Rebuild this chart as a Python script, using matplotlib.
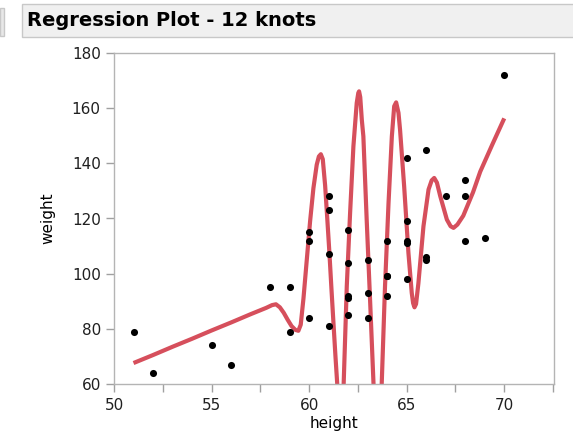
import matplotlib
matplotlib.use('Agg')
import matplotlib.pyplot as plt
from matplotlib.patches import Rectangle

# Big Class data: height vs weight
height = [59, 61, 55, 66, 52, 60, 61, 51, 60, 61, 56, 65, 63, 58, 59, 61, 62, 65, 63, 62,
          63, 64, 65, 64, 68, 64, 69, 62, 64, 67, 65, 66, 62, 66, 65, 60, 68, 62, 68, 70]
weight = [95, 123, 74, 145, 64, 84, 128, 79, 112, 107, 67, 98, 105, 95, 79, 81, 91, 142, 84, 85,
          93, 99, 119, 92, 112, 99, 113, 92, 112, 128, 111, 105, 104, 106, 112, 115, 128, 116, 134, 172]

# fitted spline (12 knots)
fit_x = [51.0, 52.0, 53.0, 54.0, 55.0, 56.0, 57.0, 57.8, 58.1, 58.3, 58.5, 58.7, 58.9, 59.1,
         59.3, 59.45, 59.57, 59.71, 59.88, 60.05, 60.22, 60.39, 60.5, 60.6, 60.7, 60.82,
         60.93, 61.04, 61.14, 61.24, 61.35, 61.45, 61.55, 61.62, 61.7, 61.77, 61.93, 62.1,
         62.27, 62.44, 62.52, 62.56, 62.62, 62.7, 62.78, 62.95, 63.13, 63.3, 63.45, 63.52,
         63.6, 63.72, 63.89, 64.07, 64.24, 64.36, 64.46, 64.58, 64.66, 64.87, 65.09, 65.26,
         65.33, 65.4, 65.48, 65.6, 65.86, 66.12, 66.28, 66.41, 66.55, 66.72, 67.06, 67.25,
         67.4, 67.6, 67.9, 68.4, 68.77, 69.4, 70.0]
fit_y = [67.6, 70.5, 73.5, 76.4, 79.4, 82.3, 85.3, 87.6, 88.6, 88.9, 87.8, 85.8, 83.3, 81.0,
         79.6, 79.3, 81.5, 91.0, 105.0, 119.0, 131.0, 139.5, 142.5, 143.3, 141.5, 132.0,
         120.0, 107.5, 95.0, 83.0, 70.0, 59.0, 48.0, 44.0, 48.0, 60.0, 95.5, 122.0,
         146.2, 161.9, 165.5, 166.1, 164.0, 155.8, 149.8, 119.6, 89.4, 60.1, 44.0, 42.0,
         46.0, 60.0, 95.5, 125.7, 149.8, 160.7, 162.1, 158.3, 152.2, 131.7, 107.5, 93.0,
         89.3, 87.8, 89.0, 96.5, 117.2, 130.5, 133.8, 134.7, 133.0, 128.1, 119.6, 117.2,
         116.6, 117.8, 121.0, 129.5, 137.0, 147.0, 156.3]

x_ticks = [50, 55, 60, 65, 70]
y_ticks = [60, 80, 100, 120, 140, 160, 180]

fig = plt.figure(figsize=(5.73, 4.44), dpi=100)

# title bar
fig.patches.append(Rectangle((22 / 573, 1 - 37 / 444), 560 / 573, 33 / 444,
                             transform=fig.transFigure, facecolor='#f0f0f0',
                             edgecolor='#c8c8c8', linewidth=1))
fig.patches.append(Rectangle((0, 1 - 36 / 444), 4 / 573, 28 / 444,
                             transform=fig.transFigure, facecolor='#e8e8e8',
                             edgecolor='#c8c8c8', linewidth=1))
fig.text(27 / 573, 1 - 20 / 444, 'Regression Plot - 12 knots', fontsize=14,
         fontweight='bold', va='center', ha='left', color='black')

ax = fig.add_axes([114 / 573, 1 - 384 / 444, 440 / 573, 331 / 444])
ax.plot(fit_x, fit_y, color='#d64f5c', linewidth=3, solid_capstyle='butt',
        solid_joinstyle='round', zorder=2)
ax.scatter(height, weight, s=26, color='black', zorder=3, linewidths=0)

ax.set_xlim(50, 72.55)
ax.set_ylim(60, 180)
ax.set_xticks(x_ticks)
ax.set_xticks([52.5, 57.5, 62.5, 67.5, 72.5], minor=True)
ax.set_yticks(y_ticks)
ax.tick_params(axis='both', which='both', color='#a0a0a0', length=6, width=1,
               labelsize=11, labelcolor='#202020')
ax.tick_params(axis='x', which='major', pad=4)
for s in ax.spines.values():
    s.set_color('#b4b4b4')
    s.set_linewidth(1)

ax.set_xlabel('height', fontsize=11, labelpad=2)
ax.set_ylabel('weight', fontsize=11, labelpad=12)

plt.savefig('out.png', dpi=100)
